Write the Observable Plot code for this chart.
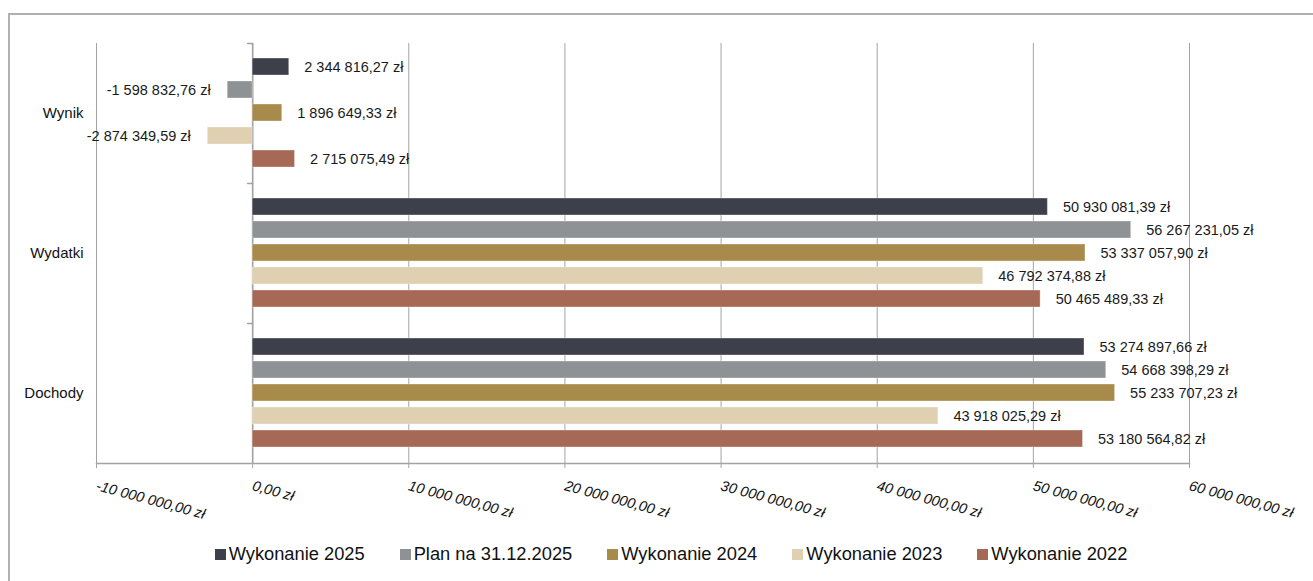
<!DOCTYPE html>
<html><head><meta charset="utf-8">
<script src="https://cdn.jsdelivr.net/npm/d3@7"></script>
<script src="https://cdn.jsdelivr.net/npm/@observablehq/plot@0.6"></script>
<style>
body{margin:0;background:#fff;font-family:"Liberation Sans",Arial,sans-serif;overflow:hidden;width:1313px;height:581px;position:relative}
#frame{position:absolute;left:8px;top:13px;width:1400px;height:700px;border:2px solid #b0b0b0;box-sizing:border-box;pointer-events:none}
#chart{position:absolute;left:0;top:0}
#legend{position:absolute;left:0;top:543px;width:1342px;display:flex;justify-content:center;gap:35px;font-size:18.3px;color:#111}
.item{display:flex;align-items:center;white-space:nowrap}
.sw{width:11px;height:11px;margin-right:3px;display:inline-block}
</style></head><body>
<div id="frame"></div>
<div id="chart"></div>
<div id="legend"></div>
<script>
const categories = ["Wynik", "Wydatki", "Dochody"];
const series = ["Wykonanie 2025", "Plan na 31.12.2025", "Wykonanie 2024", "Wykonanie 2023", "Wykonanie 2022"];
const colors = ["#3d404b", "#8e9294", "#a88a4a", "#ded0b1", "#a66955"];
const wynik = [2344816.27, -1598832.76, 1896649.33, -2874349.59, 2715075.49];
const wydatki = [50930081.39, 56267231.05, 53337057.90, 46792374.88, 50465489.33];
const dochody = [53274897.66, 54668398.29, 55233707.23, 43918025.29, 53180564.82];
const xTicks = [-10000000, 0, 10000000, 20000000, 30000000, 40000000, 50000000, 60000000];

const values = {Wynik: wynik, Wydatki: wydatki, Dochody: dochody};
const data = categories.flatMap(c => series.map((s, i) => ({category: c, series: s, value: values[c][i]})));

const loc = d3.formatLocale({decimal: ",", thousands: " ", grouping: [3], currency: ["", " zł"], minus: "-"});
const fmt = loc.format("$,.2f");

const W = 1313, H = 530, mL = 96, mR = 124, mT = 42, mB = 66;
const grid = "#a3a3a3";
const lineShape = {draw(context, l) { context.moveTo(0, 0); context.lineTo(0, -l); }};

const chart = Plot.plot({
  width: W, height: H,
  marginLeft: mL, marginRight: mR, marginTop: mT, marginBottom: mB,
  style: {fontFamily: '"Liberation Sans", Arial, sans-serif', fontSize: "14.5px", color: "#111", background: "transparent"},
  x: {domain: [xTicks[0], xTicks[xTicks.length - 1]]},
  y: {domain: series, paddingInner: 0.25, paddingOuter: 0.5625, axis: null},
  fy: {domain: categories, padding: 0},
  color: {domain: series, range: colors},
  marks: [
    Plot.ruleX(xTicks, {stroke: grid, strokeWidth: 1}),
    Plot.ruleX([0], {stroke: grid, strokeWidth: 1.6}),
    Plot.vector([0], {x: d => d, frameAnchor: "top", rotate: -90, length: 5, anchor: "start", shape: lineShape, stroke: grid, strokeWidth: 1.5}),
    Plot.vector([{fy: "Dochody"}], {x: () => xTicks[0], fy: "fy", frameAnchor: "bottom", rotate: 90, length: W - mL - mR, anchor: "start", shape: lineShape, stroke: grid, strokeWidth: 1.6}),
    Plot.barX(data, {x: "value", y: "series", fy: "category", fill: "series", stroke: "#ffffff", strokeOpacity: 0.35, strokeWidth: 1}),
    Plot.text(data.filter(d => d.value >= 0), {x: "value", y: "series", fy: "category", text: d => fmt(d.value), textAnchor: "start", dx: 15, fill: "#1a1a1a", fontSize: 14.5}),
    Plot.text(data.filter(d => d.value < 0), {x: "value", y: "series", fy: "category", text: d => fmt(d.value), textAnchor: "end", dx: -17, fill: "#1a1a1a", fontSize: 14.5}),
    Plot.axisX({ticks: xTicks, tickFormat: fmt, tickSize: 5, tickPadding: 17, tickRotate: 15, fontStyle: "italic", label: null, stroke: grid, fill: "#111", fontSize: 14.5}),
    Plot.axisFy({anchor: "left", tickSize: 0, tickPadding: 13, label: null, fontSize: 15, fill: "#111"})
  ]
});
document.getElementById("chart").append(chart);

const legend = document.getElementById("legend");
series.forEach((s, i) => {
  const item = document.createElement("div");
  item.className = "item";
  const sw = document.createElement("span");
  sw.className = "sw";
  sw.style.background = colors[i];
  item.append(sw, document.createTextNode(s));
  legend.append(item);
});
</script>
</body></html>
